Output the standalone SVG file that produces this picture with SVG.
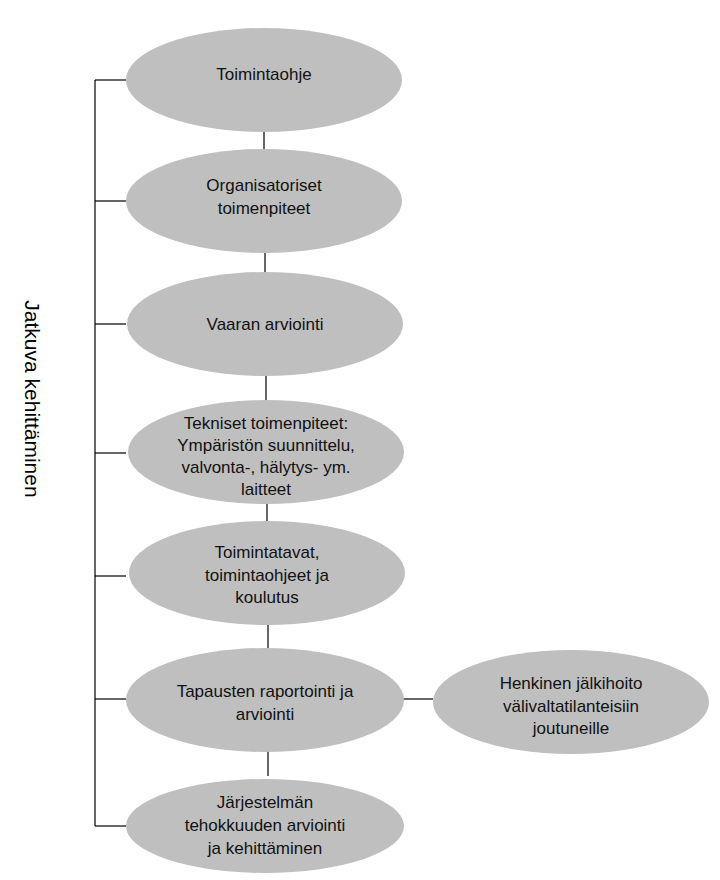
<svg xmlns="http://www.w3.org/2000/svg" width="720" height="880" viewBox="0 0 720 880">
<style>
.n ellipse{fill:#bfbfbf;stroke:none}
.n text{font-family:"Liberation Sans",Arial,sans-serif;font-size:17px;fill:#111;text-anchor:middle}
.c line{stroke:#000;stroke-width:1.2}
.side{font-family:"Liberation Sans",Arial,sans-serif;font-size:21px;fill:#000;text-anchor:middle}
</style>
<rect width="720" height="880" fill="#fff"/>
<g class="c" id="connectors">
<line x1="95" y1="80" x2="95" y2="826"/>
<line x1="95" y1="80" x2="126" y2="80"/>
<line x1="95" y1="201" x2="126" y2="201"/>
<line x1="95" y1="324" x2="126" y2="324"/>
<line x1="95" y1="453" x2="126" y2="453"/>
<line x1="95" y1="576" x2="126" y2="576"/>
<line x1="95" y1="699" x2="126" y2="699"/>
<line x1="95" y1="826" x2="126" y2="826"/>
<line x1="264" y1="132" x2="264" y2="149"/>
<line x1="265" y1="253" x2="265" y2="272"/>
<line x1="266" y1="376" x2="266" y2="400"/>
<line x1="267" y1="504" x2="267" y2="522"/>
<line x1="268" y1="625" x2="268" y2="648"/>
<line x1="268" y1="751" x2="268" y2="776"/>
<line x1="402" y1="699" x2="433" y2="699"/>
</g>
<g class="n" id="n1"><ellipse cx="264" cy="80" rx="138" ry="52"/><text x="264" y="80">Toimintaohje</text></g>
<g class="n" id="n2"><ellipse cx="264" cy="201" rx="138" ry="52"/><text x="264" y="191">Organisatoriset</text><text x="264" y="214">toimenpiteet</text></g>
<g class="n" id="n3"><ellipse cx="265" cy="324" rx="138" ry="52"/><text x="265" y="330">Vaaran arviointi</text></g>
<g class="n" id="n4"><ellipse cx="266" cy="452" rx="138" ry="52"/><text x="266" y="429">Tekniset toimenpiteet:</text><text x="266" y="451">Ympäristön suunnittelu,</text><text x="266" y="473">valvonta-, hälytys- ym.</text><text x="266" y="495">laitteet</text></g>
<g class="n" id="n5"><ellipse cx="267" cy="573" rx="138" ry="52"/><text x="267" y="558">Toimintatavat,</text><text x="267" y="581">toimintaohjeet ja</text><text x="267" y="603">koulutus</text></g>
<g class="n" id="n6"><ellipse cx="265" cy="700" rx="139" ry="52"/><text x="265" y="697">Tapausten raportointi ja</text><text x="265" y="720">arviointi</text></g>
<g class="n" id="n7"><ellipse cx="265" cy="826" rx="139" ry="47"/><text x="265" y="808">Järjestelmän</text><text x="265" y="831">tehokkuuden arviointi</text><text x="265" y="854">ja kehittäminen</text></g>
<g class="n" id="n8"><ellipse cx="571" cy="702" rx="138" ry="52"/><text x="571" y="689">Henkinen jälkihoito</text><text x="571" y="712">välivaltatilanteisiin</text><text x="571" y="734">joutuneille</text></g>
<g id="side"><text class="side" transform="translate(25,399) rotate(90)">Jatkuva kehittäminen</text></g>
</svg>
